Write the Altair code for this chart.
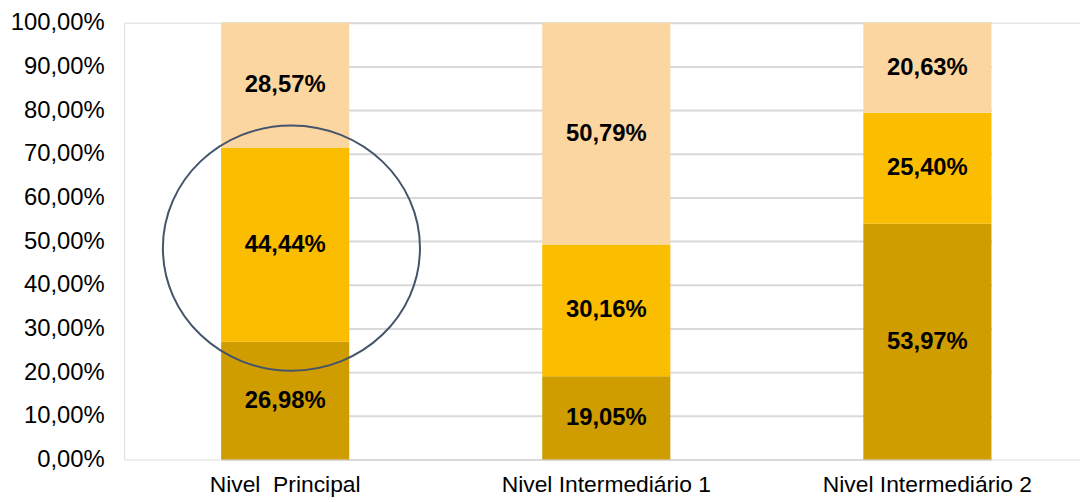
import altair as alt
import pandas as pd

categories = ["Nivel\u00a0 Principal", "Nivel Intermediário 1", "Nivel Intermediário 2"]
series = ["Série 1", "Série 2", "Série 3"]
s1 = [26.98, 19.05, 53.97]
s2 = [44.44, 30.16, 25.40]
s3 = [28.57, 50.79, 20.63]
colors = ["#CF9D00", "#FABD00", "#FCD6A0"]
y_ticks = [0, 10, 20, 30, 40, 50, 60, 70, 80, 90, 100]

# annotation circle (data position: category and y value)
circle_cat = [categories[0]]
circle_y = [48.4]

rows = []
for i, c in enumerate(categories):
    for j, (s, vals) in enumerate(zip(series, [s1, s2, s3])):
        rows.append({"cat": c, "series": s, "order": j, "value": vals[i]})
df = pd.DataFrame(rows)
ann = pd.DataFrame({"cat": circle_cat, "y": circle_y})

FONT = "Liberation Sans"

xscale = alt.Scale(domain=categories, range=[97.7, 873.8], paddingInner=0.601, paddingOuter=0)
yscale = alt.Scale(domain=[0, 100], nice=False)

base = (
    alt.Chart(df)
    .transform_stack(stack="value", groupby=["cat"], as_=["y0", "y1"],
                     sort=[alt.SortField("order", order="ascending")])
    .transform_calculate(
        mid="(datum.y0 + datum.y1) / 2",
        label="replace(format(datum.value, '.2f'), '.', ',') + '%'",
    )
)

bars = base.mark_bar().encode(
    x=alt.X("cat:N", scale=xscale, sort=categories, title=None,
            axis=alt.Axis(labelAngle=0, labelFont=FONT, labelFontSize=23, labelColor="#000000",
                          labelLimit=0, ticks=False, domain=False, labelPadding=14, grid=False)),
    y=alt.Y("y0:Q", scale=yscale, title=None,
            axis=alt.Axis(values=y_ticks, labelFont=FONT, labelFontSize=24, labelColor="#000000",
                          ticks=False, domain=False, labelPadding=20,
                          gridColor="#D9D9D9", gridWidth=2,
                          labelExpr="replace(format(datum.value, '.2f'), '.', ',') + '%'")),
    y2="y1:Q",
    color=alt.Color("series:N", scale=alt.Scale(domain=series, range=colors), legend=None),
)

texts = base.mark_text(font=FONT, fontSize=24, fontWeight="bold", color="#000000",
                       baseline="middle", align="center").encode(
    x=alt.X("cat:N", scale=xscale, sort=categories),
    y=alt.Y("mid:Q", scale=yscale),
    text="label:N",
)

ellipse = "M -1,0 A 1,0.954 0 1,0 1,0 A 1,0.954 0 1,0 -1,0 Z"
circle = alt.Chart(ann).mark_point(shape=ellipse, filled=False, stroke="#44546A",
                                   strokeWidth=2, size=259 * 259, xOffset=6.3, opacity=1).encode(
    x=alt.X("cat:N", scale=xscale, sort=categories),
    y=alt.Y("y:Q", scale=yscale),
)

chart = (
    alt.layer(bars, texts, circle)
    .properties(width=963, height=440,
                autosize=alt.AutoSizeParams(type="none"),
                padding={"left": 117, "top": 13, "right": 0, "bottom": 41})
    .configure_view(stroke=None)
    .configure(background="white")
)

chart.save("out.html", embed_options={"renderer": "svg", "actions": False})
